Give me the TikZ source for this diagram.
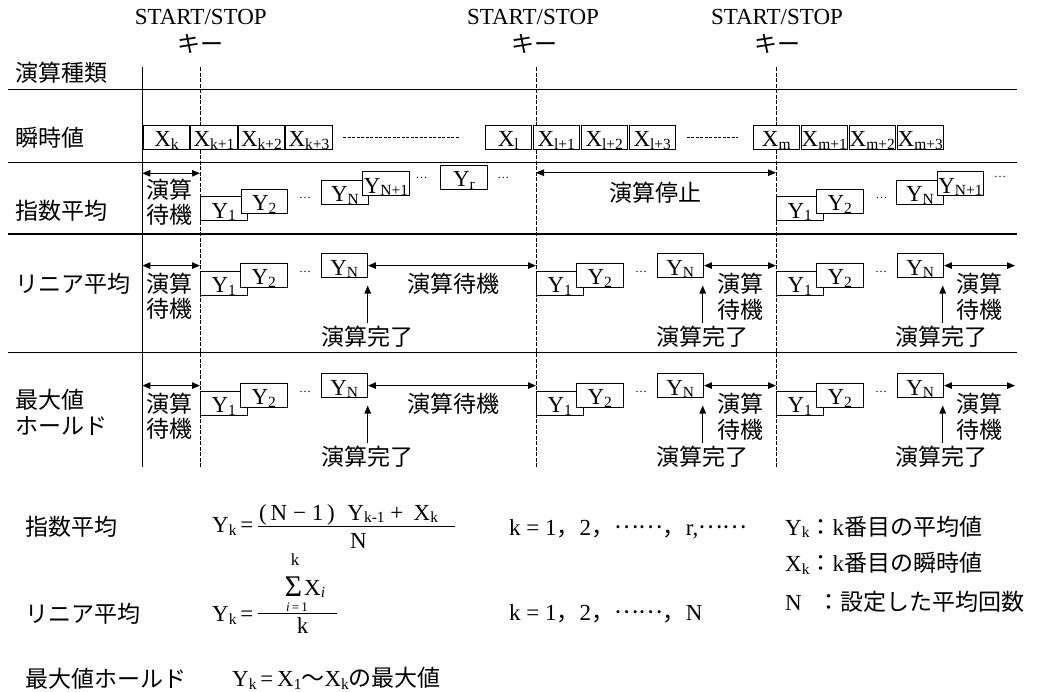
\documentclass[tikz,border=0pt]{standalone}
\usepackage{fontspec}
\setmainfont{Liberation Serif}
\newfontfamily\jp{Noto Sans CJK JP}
\usetikzlibrary{arrows.meta}
\newcommand\sbs[1]{\raisebox{-2.5pt}{\fontsize{15.5}{15.5}\selectfont #1}}
\newcommand\fs{\fontsize{23}{27}\selectfont}
\newcommand\cdt{{\jp\raisebox{0.3em}{……}}}
\begin{document}
\begin{tikzpicture}[x=1pt,y=-1pt,
  every node/.style={font=\fs, inner sep=0pt},
  jt/.style={font=\fs\jp},
  box/.style={draw, fill=white, line width=0.9pt, minimum width=46.5pt, minimum height=24pt,
              inner sep=0pt, text height=19pt, text depth=0pt},
  rule/.style={line width=1.2pt},
  keyline/.style={line width=0.8pt, dash pattern=on 4pt off 1.5pt},
  dbl/.style={line width=1.1pt, {Triangle[length=8pt,width=6.5pt]}-{Triangle[length=8pt,width=6.5pt]}},
  up/.style={line width=1.1pt, -{Triangle[length=8pt,width=6.5pt]}},
  dashrow/.style={line width=1pt, dash pattern=on 3pt off 1.5pt},
  ell/.style={anchor=base, font=\fontsize{12}{12}\selectfont}]
\useasboundingbox (0,0) rectangle (1040,691);

% ---- top key labels and key lines
\node (ss1) at (200.8,17) {START/STOP};
\node (ss2) at (533,17) {START/STOP};
\node (ss3) at (777,17) {START/STOP};
\node[jt] (key1) at (200.8,43.5) {キー};
\node[jt] (key2) at (534,43.5) {キー};
\node[jt] (key3) at (777,43.5) {キー};
\coordinate (kd0) at (142.3,67);
\coordinate (kd1) at (200,67);
\coordinate (kd2) at (536,67);
\coordinate (kd3) at (776,67);
\coordinate (rend) at (1015,67);
\draw[rule] (kd0) -- (142.3,467);
\draw[keyline] (kd1) -- (200,467);
\draw[keyline] (kd2) -- (536,467);
\draw[keyline] (kd3) -- (776,467);

% ---- horizontal rules
\foreach \yy in {89.5,162.3,234,352.3} \draw[rule] (8,\yy) -- (1017,\yy);

% ---- row labels
\node[jt,anchor=west] (lab0) at (15,73) {演算種類};
\node[jt,anchor=west] (lab1) at (15,138) {瞬時値};
\node[jt,anchor=west] (lab2) at (15,211) {指数平均};
\node[jt,anchor=west] (lab3) at (15,283.5) {リニア平均};
\node[jt,anchor=west] (lab4) at (15,400) {最大値};
\node[jt,anchor=west] (lab5) at (15,426) {ホールド};

% ---- instantaneous values
\node[box] (xk0) at (166.5,137) {X\sbs{k}};
\node[box] (xk1) at (214,137) {X\sbs{k+1}};
\node[box] (xk2) at (261.5,137) {X\sbs{k+2}};
\node[box] (xk3) at (309,137) {X\sbs{k+3}};
\draw[dashrow] (343,137) -- (460,137);
\node[box] (xl0) at (508.25,137) {X\sbs{l}};
\node[box] (xl1) at (556.25,137) {X\sbs{l+1}};
\node[box] (xl2) at (604.25,137) {X\sbs{l+2}};
\node[box] (xl3) at (652.25,137) {X\sbs{l+3}};
\draw[dashrow] (686.7,137) -- (738.3,137);
\node[box] (xm0) at (776.25,137) {X\sbs{m}};
\node[box] (xm1) at (824.25,137) {X\sbs{m+1}};
\node[box] (xm2) at (872.25,137) {X\sbs{m+2}};
\node[box] (xm3) at (920.25,137) {X\sbs{m+3}};

% ---- exponential average row
\draw[dbl] (kd0 |- 0,173.3) coordinate (ea0) -- (kd1 |- ea0);
\node[jt] (ew1) at (169.7,190) {演算};
\node[jt] (ew2) at (169.7,215) {待機};
\node[box] (ey1a) at (223.75,208.85) {Y\sbs{1}};
\node[box] (ey2a) at (264.25,201.3) {Y\sbs{2}};
\node[ell] (ed1a) at (305,198.5) {…};
\node[box] (eyna) at (345,192) {Y\sbs{N}};
\node[box] (eyn1a) at (386,183.85) {Y\sbs{N+1}};
\node[ell] (ed2a) at (421.7,178.5) {…};
\node[box] (eyr) at (464,177.15) {Y\sbs{r}};
\node[ell] (ed3a) at (503.3,178.5) {…};
\draw[dbl] (kd2 |- 0,172.7) coordinate (es0) -- (kd3 |- es0);
\node[jt] (estop) at (655.5,193) {演算停止};
\node[box] (ey1b) at (799.75,208.85) {Y\sbs{1}};
\node[box] (ey2b) at (839.75,201.3) {Y\sbs{2}};
\node[ell] (ed1b) at (881.5,198.5) {…};
\node[box] (eynb) at (920,192) {Y\sbs{N}};
\node[box] (eyn1b) at (960.5,183.85) {Y\sbs{N+1}};
\node[ell] (ed2b) at (1000,177.5) {…};

% ---- linear average (L) and max hold (M) rows
\foreach \r/\yo in {L/0,M/120}{
  \draw[dbl] (kd0 |- 0,265.6+\yo) coordinate (a0\r) -- (kd1 |- a0\r);
  \node[jt] (w1\r) at (169.7,283.5+\yo) {演算};
  \node[jt] (w2\r) at (169.7,308.5+\yo) {待機};
  \foreach \s/\xo in {1/200,2/536,3/776}{
    \node[box] (y1\r\s) at (\xo+23.75,283+\yo) {Y\sbs{1}};
    \node[box] (y2\r\s) at (\xo+63.75,275.4+\yo) {Y\sbs{2}};
    \node[ell] (d\r\s) at (\xo+105,272.5+\yo) {…};
    \node[box] (yn\r\s) at (\xo+144.25,265.6+\yo) {Y\sbs{N}};
  }
  \draw[dbl] (yn\r1.east) -- (yn\r1.east -| kd2);
  \node[jt] (lw\r) at (453,283.5+\yo) {演算待機};
  \draw[dbl] (yn\r2.east) -- (yn\r2.east -| kd3);
  \node[jt] (w3\r) at (740,283.5+\yo) {演算};
  \node[jt] (w4\r) at (740,309.5+\yo) {待機};
  \draw[dbl] (yn\r3.east) -- (yn\r3.east -| rend);
  \node[jt] (w5\r) at (979.5,283.5+\yo) {演算};
  \node[jt] (w6\r) at (979.5,309.5+\yo) {待機};
  \coordinate (tip\r) at (0,285.5+\yo);
  \node[jt] (c1\r) at (367.7,336.7+\yo) {演算完了};
  \node[jt] (c2\r) at (702.7,336.7+\yo) {演算完了};
  \node[jt] (c3\r) at (941,336.7+\yo) {演算完了};
  \draw[up] (367.7,323.3+\yo) coordinate (u1\r) -- (u1\r |- tip\r);
  \draw[up] (702.7,323.3+\yo) coordinate (u2\r) -- (u2\r |- tip\r);
  \draw[up] (942.7,323.3+\yo) coordinate (u3\r) -- (u3\r |- tip\r);
}

% ---- formulas
\node[jt,anchor=west] (f1) at (25,526.7) {指数平均};
\node[anchor=base west] (f1y) at (212,532.5) {Y\sbs{k}\,=};
\draw[line width=1pt] (258.3,526.7) -- (455,526.7);
\node[anchor=base west] (f1n) at (259,520) {(\,N − 1\,)\hspace{0.55em}Y\sbs{k-1} + \hspace{0.2em}X\sbs{k}};
\node[anchor=base] (f1d) at (358.3,548.3) {N};
\node[anchor=base west] (f1k) at (509,535) {k = 1{\jp ，}2{\jp ，}\cdt{\jp ，}r,\cdt};

\node[jt,anchor=west] (f2) at (25,613.3) {リニア平均};
\node[anchor=base west] (f2y) at (212,621.7) {Y\sbs{k}\,=};
\draw[line width=1pt] (258.3,613.5) -- (336.7,613.5);
\node[anchor=base, font=\fontsize{30}{30}\selectfont, text height=17pt, text depth=0pt] (sig) at (293.3,596) {Σ};
\node[anchor=base, font=\fontsize{17}{17}\selectfont] (sigk) at (295,565) {k};
\node[anchor=base west] (sigx) at (304,595) {X\sbs{\textit{i}}};
\node[anchor=base, font=\fontsize{13}{13}\selectfont, text height=9pt, text depth=0pt] (sigi) at (297,611.5) {\textit{i}\,=\,1};
\node[anchor=base] (f2d) at (302.5,633) {k};
\node[anchor=base west] (f2k) at (509,620) {k = 1{\jp ，}2{\jp ，}\cdt{\jp ，}N};

\node[jt,anchor=west] (f3) at (25,678.3) {最大値ホールド};
\node[anchor=base west] (f3y) at (232,686.7) {Y\sbs{k}\,=\,X\sbs{1}{\jp ～}X\sbs{k}{\jp の最大値}};

\node[anchor=base west] (n1) at (785,535) {Y\sbs{k}{\jp ：}k{\jp 番目の平均値}};
\node[anchor=base west] (n2) at (785,571.7) {X\sbs{k}{\jp ：}k{\jp 番目の瞬時値}};
\node[anchor=base west] (n3) at (785,610) {N\hspace{0.7em}{\jp ：設定した平均回数}};
\end{tikzpicture}
\end{document}
